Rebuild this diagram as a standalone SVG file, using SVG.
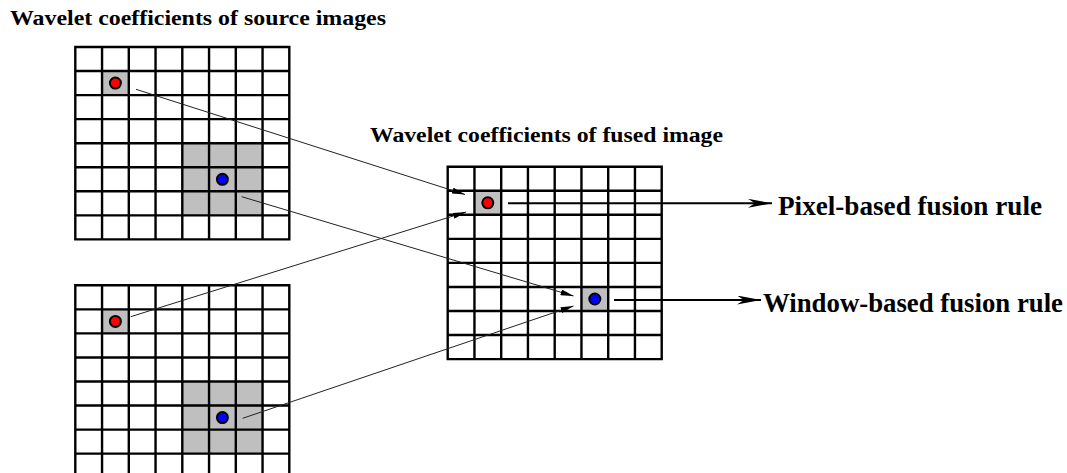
<svg xmlns="http://www.w3.org/2000/svg" xmlns:xlink="http://www.w3.org/1999/xlink" width="1067" height="473" viewBox="0 0 1067 473">
  <style>
    .grid { fill: none; stroke: #000; stroke-width: 2.4; }
    .shade { fill: #bfbfbf; stroke: none; }
    .red { fill: #ff0000; stroke: #000; stroke-width: 2; }
    .blue { fill: #0000ff; stroke: #000; stroke-width: 2; }
    .diag { fill: none; stroke: #222; stroke-width: 1; marker-end: url(#tri); }
    .horiz { fill: none; stroke: #000; stroke-width: 2; marker-end: url(#barb); }
    .title { font-family: "Liberation Serif", "Times New Roman", serif; font-weight: bold; font-size: 20px; fill: #000; }
    .label { font-family: "Liberation Serif", "Times New Roman", serif; font-weight: bold; font-size: 27px; fill: #000; }
  </style>
  <defs>
    <path id="grid8" class="grid" d="M0,0 H214 V192.4 H0 Z
      M26.75,0 V192.4 M53.5,0 V192.4 M80.25,0 V192.4 M107,0 V192.4 M133.75,0 V192.4 M160.5,0 V192.4 M187.25,0 V192.4
      M0,24.05 H214 M0,48.1 H214 M0,72.15 H214 M0,96.2 H214 M0,120.25 H214 M0,144.3 H214 M0,168.35 H214"/>
    <marker id="tri" markerUnits="userSpaceOnUse" markerWidth="13" markerHeight="6" refX="13" refY="3" orient="auto" viewBox="0 0 13 6">
      <path d="M0,0 L13,3 L0,6 Z" fill="#000"/>
    </marker>
    <marker id="barb" markerUnits="userSpaceOnUse" markerWidth="24" markerHeight="9" refX="24" refY="4.5" orient="auto" viewBox="0 0 24 9">
      <path d="M0,0 L24,4.5 L0,9 L7,4.5 Z" fill="#000"/>
    </marker>
  </defs>
  <rect width="1067" height="473" fill="#fff"/>

  <text id="title-source" class="title" x="10" y="25" textLength="376" lengthAdjust="spacingAndGlyphs">Wavelet coefficients of source images</text>
  <text id="title-fused" class="title" x="370" y="142" textLength="353" lengthAdjust="spacingAndGlyphs">Wavelet coefficients of fused image</text>

  <g id="source-top" transform="translate(75.3,47)">
    <rect class="shade" x="26.75" y="24.05" width="26.75" height="24.05"/>
    <rect class="shade" x="107" y="96.2" width="80.25" height="72.15"/>
    <use xlink:href="#grid8" href="#grid8"/>
    <circle class="red" cx="40.1" cy="36.1" r="5.5"/>
    <circle class="blue" cx="147.1" cy="132.3" r="5.5"/>
  </g>

  <g id="source-bottom" transform="translate(75.3,285.3)">
    <rect class="shade" x="26.75" y="24.05" width="26.75" height="24.05"/>
    <rect class="shade" x="107" y="96.2" width="80.25" height="72.15"/>
    <use xlink:href="#grid8" href="#grid8"/>
    <circle class="red" cx="40.1" cy="36.1" r="5.5"/>
    <circle class="blue" cx="147.1" cy="132.3" r="5.5"/>
  </g>

  <g id="fused" transform="translate(447.7,166.7)">
    <rect class="shade" x="26.75" y="24.05" width="26.75" height="24.05"/>
    <rect class="shade" x="133.75" y="120.25" width="26.75" height="24.05"/>
    <use xlink:href="#grid8" href="#grid8"/>
    <circle class="red" cx="40.1" cy="36.1" r="5.5"/>
    <circle class="blue" cx="147.1" cy="132.3" r="5.5"/>
  </g>

  <g id="connectors">
    <line class="diag" x1="136" y1="89.3" x2="465" y2="194.5"/>
    <line class="diag" x1="130.7" y1="316.7" x2="466" y2="212"/>
    <line class="diag" x1="241.7" y1="196.7" x2="573.5" y2="296"/>
    <line class="diag" x1="242.7" y1="418.3" x2="573.5" y2="306"/>
    <line class="horiz" x1="508" y1="203.3" x2="772" y2="203.3"/>
    <line class="horiz" x1="614" y1="300" x2="761" y2="300"/>
  </g>

  <text id="label-pixel" class="label" x="778" y="215" textLength="264" lengthAdjust="spacingAndGlyphs">Pixel-based fusion rule</text>
  <text id="label-window" class="label" x="763" y="312" textLength="300" lengthAdjust="spacingAndGlyphs">Window-based fusion rule</text>
</svg>
